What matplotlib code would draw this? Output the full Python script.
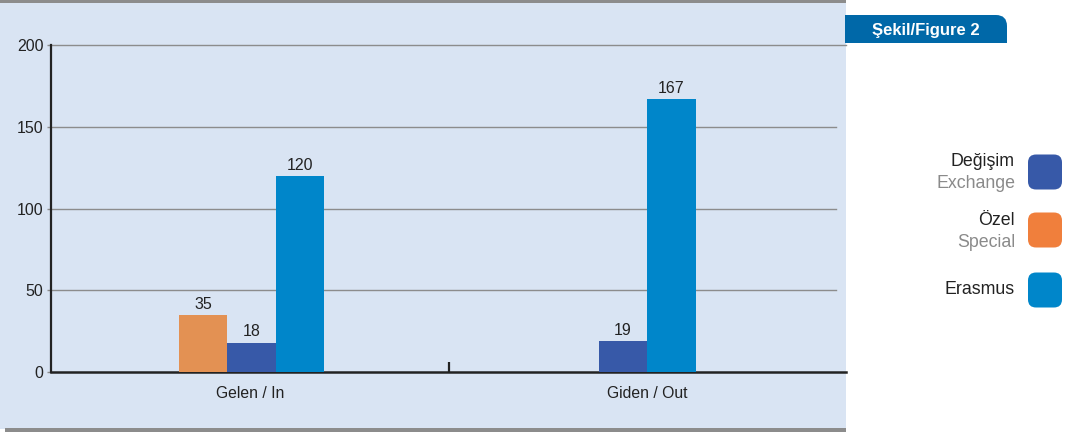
import matplotlib
matplotlib.use("Agg")
import matplotlib.pyplot as plt
from matplotlib.patches import Rectangle, FancyBboxPatch
from matplotlib.transforms import Affine2D

plt.rcParams['font.family'] = ['Liberation Sans', 'DejaVu Sans']

# ---- data ----
categories = ["Gelen / In", "Giden / Out"]
series_names = ["Özel", "Değişim", "Erasmus"]
ozel = [35, None]
degisim = [18, 19]
erasmus = [120, 167]
y_ticks = [0, 50, 100, 150, 200]

legend_main = ["Değişim", "Özel", "Erasmus"]
legend_sub = ["Exchange", "Special", ""]

bar_colors = {"Özel": "#e39153", "Değişim": "#3759a8", "Erasmus": "#0086ca"}
legend_colors = ["#3759a8", "#f07f3c", "#0086ca"]

W, H, DPI = 1066, 432, 100
fig = plt.figure(figsize=(W / DPI, H / DPI), dpi=DPI)
fig.patch.set_facecolor("white")
tpx = Affine2D().scale(1 / DPI) + fig.dpi_scale_trans

def R(x0, y0, x1, y1, color, **kw):
    # image coords (origin top-left)
    p = Rectangle((x0, H - y1), x1 - x0, y1 - y0, transform=tpx, color=color, lw=0, **kw)
    fig.patches.append(p)
    return p

# panel background and gray rules
R(0, 2, 846, 429, "#d9e4f3", zorder=-2)
R(0, 0, 846, 3, "#8c8c8c", zorder=-1)
R(5, 428, 846, 432, "#8c8c8c", zorder=-1)

# badge
R(845, 15, 995, 43, "#0068a8", zorder=2)
fig.patches.append(FancyBboxPatch((960, H - 43), 47, 28, boxstyle="round,pad=0,rounding_size=11",
                                  transform=tpx, color="#0068a8", lw=0, zorder=2))
R(985, 32, 1007, 43, "#0068a8", zorder=2)
fig.text(926 / W, 1 - 30 / H, "Şekil/Figure 2", color="white", fontsize=12, fontweight="bold",
         ha="center", va="center")

# legend
leg_y = [172, 230, 290]
for i, (m, s, c) in enumerate(zip(legend_main, legend_sub, legend_colors)):
    yc = leg_y[i]
    fig.patches.append(FancyBboxPatch((1028, H - yc - 17.5), 34, 35, boxstyle="round,pad=0,rounding_size=8",
                                      transform=tpx, color=c, lw=0, zorder=2))
    if s:
        fig.text(1015 / W, 1 - (yc - 10) / H, m, color="#222222", fontsize=12.8, ha="right", va="center")
        fig.text(1015 / W, 1 - (yc + 12) / H, s, color="#8a8a8a", fontsize=12.8, ha="right", va="center")
    else:
        fig.text(1015 / W, 1 - yc / H, m, color="#222222", fontsize=12.8, ha="right", va="center")

# axes
ax_l, ax_r, ax_b, ax_t = 51, 846, 372, 45
ax = fig.add_axes([ax_l / W, 1 - ax_b / H, (ax_r - ax_l) / W, (ax_b - ax_t) / H])
ax.set_zorder(5)
ax.patch.set_visible(False)
ax.set_xlim(0, len(categories))
ax.set_ylim(0, 200)

bw = 0.122
shift = 0.005
series_vals = {"Özel": ozel, "Değişim": degisim, "Erasmus": erasmus}
for ci, cat in enumerate(categories):
    present = [n for n in series_names if series_vals[n][ci] is not None]
    k = len(present)
    for j, n in enumerate(present):
        x = ci + 0.5 + (j - (k - 1) / 2) * bw + (shift if k == 3 else 0)
        v = series_vals[n][ci]
        ax.bar(x, v, width=bw, color=bar_colors[n], zorder=3, linewidth=0)
        ax.text(x, v + 2, str(v), ha="center", va="bottom", fontsize=11.5, color="#222222", zorder=4)

grid_end = (836 - ax_l) / (ax_r - ax_l)
for yv in y_ticks[1:-1]:
    ax.axhline(yv, xmin=0, xmax=grid_end, color="#8c8c8c", lw=1, zorder=1)
ax.axhline(200, xmin=0, xmax=1, color="#8c8c8c", lw=1, zorder=1, clip_on=False)

for s in ["top", "right"]:
    ax.spines[s].set_visible(False)
ax.spines["left"].set_color("#222222")
ax.spines["left"].set_linewidth(1.6)
ax.spines["bottom"].set_color("#222222")
ax.spines["bottom"].set_linewidth(1.8)

ax.set_yticks(y_ticks)
ax.set_yticklabels([str(v) for v in y_ticks], fontsize=11.5, color="#222222")
ax.tick_params(axis="y", length=3, width=1, color="#8c8c8c", pad=2.5)

ax.set_xticks([1.0])
ax.set_xticklabels([""])
ax.tick_params(axis="x", which="major", direction="in", length=7, width=1.6, color="#222222")
ax.set_xticks([i + 0.5 for i in range(len(categories))], minor=True)
ax.set_xticklabels(categories, minor=True, fontsize=11.3, color="#222222")
ax.tick_params(axis="x", which="minor", length=0, pad=10)

fig.savefig("out.png", dpi=DPI)
